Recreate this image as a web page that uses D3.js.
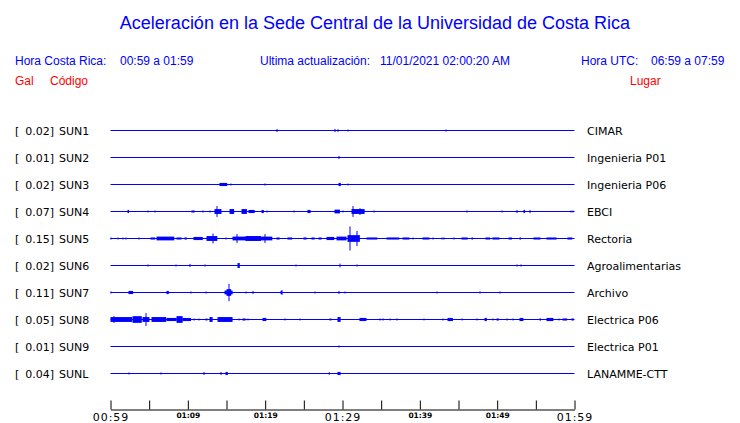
<!DOCTYPE html>
<html>
<head>
<meta charset="utf-8">
<script src="https://cdn.jsdelivr.net/npm/d3@7"></script>
<style>
  html, body { margin: 0; padding: 0; background: #fff; }
  svg { display: block; }
</style>
</head>
<body>
<div id="chart"></div>
<script>
// ---------- DATA ----------
const stations = ["SUN1","SUN2","SUN3","SUN4","SUN5","SUN6","SUN7","SUN8","SUN9","SUNL"];
const maxGal   = ["0.02","0.01","0.02","0.07","0.15","0.02","0.11","0.05","0.01","0.04"];
const places   = ["CIMAR","Ingenieria P01","Ingenieria P06","EBCI","Rectoria","Agroalimentarias","Archivo","Electrica P06","Electrica P01","LANAMME-CTT"];
const tickLabels = ["00:59","01:09","01:19","01:29","01:39","01:49","01:59"];
const majorLabels = ["00:59","01:29","01:59"];

// events: [start minute after 00:59, end minute, relative amplitude 0..1]
const sun1 = [[21.5,21.5,0.17],[29.0,29.0,0.17],[29.4,29.4,0.15],[30.7,30.7,0.12],[43.4,43.4,0.12]];
const sun2 = [[29.6,29.6,0.17]];
const sun3 = [[14.2,15.2,0.17],[15.6,15.6,0.1],[20.0,20.0,0.12],[29.6,29.9,0.17],[30.7,30.7,0.1]];
const sun4 = [[2.3,2.5,0.17],[4.9,4.9,0.1],[5.8,5.8,0.1],[10.5,10.9,0.12],[12.0,12.0,0.12],[12.9,12.9,0.1],
  [13.5,14.4,0.25],[13.8,13.8,0.5],[15.5,16.1,0.25],[17.0,17.7,0.25],[17.9,18.7,0.17],[19.6,19.9,0.17],
  [20.2,20.2,0.1],[23.7,23.7,0.1],[25.5,25.9,0.17],[29.0,29.7,0.2],[30.0,30.0,0.1],[31.2,32.9,0.25],
  [31.4,31.4,0.5],[32.3,32.3,0.33],[34.1,34.1,0.12],[46.1,46.1,0.12],[50.6,50.6,0.12],[52.5,52.5,0.17],
  [53.5,53.7,0.17],[54.3,54.3,0.17],[59.6,59.6,0.1],[59.8,59.8,0.1]];
const sun5 = [[0.1,0.1,0.12],[1.0,1.0,0.1],[1.6,1.6,0.1],[2.0,2.0,0.1],[3.7,3.7,0.12],[5.2,5.8,0.12],
  [6.0,8.3,0.2],[8.6,9.25,0.12],[9.6,9.9,0.12],[10.8,12.0,0.17],[12.5,13.9,0.25],[13.26,13.26,0.46],
  [14.9,14.9,0.1],[15.85,21.0,0.2],[17.5,19.5,0.25],[16.4,16.4,0.42],[20.0,20.0,0.42],[21.5,21.9,0.12],
  [23.0,23.6,0.12],[25.0,25.4,0.12],[26.1,26.5,0.12],[27.0,27.4,0.12],[28.0,29.0,0.17],[29.3,30.6,0.2],
  [30.7,32.3,0.33],[31.0,31.0,1.0],[31.9,31.9,0.67],[33.2,34.6,0.12],[35.8,37.45,0.12],[37.8,38.7,0.12],
  [39.1,39.1,0.1],[40.4,41.3,0.12],[41.7,41.7,0.1],[42.9,42.9,0.12],[43.1,43.1,0.12],[44.4,44.4,0.12],
  [45.5,46.3,0.12],[46.7,46.9,0.1],[48.6,49.2,0.12],[49.5,50.4,0.12],[51.55,52.0,0.1],[53.0,53.2,0.12],
  [54.7,55.6,0.12],[56.5,57.8,0.12],[59.2,59.8,0.12]];
const sun6 = [[4.85,4.85,0.12],[8.5,8.5,0.1],[10.3,10.3,0.17],[12.2,12.2,0.12],[16.5,16.8,0.25],[24.0,24.0,0.1],
  [29.7,29.7,0.2],[31.9,31.9,0.12],[52.6,52.6,0.12],[53.1,53.1,0.12]];
const sun7 = [[0.06,0.06,0.12],[2.4,3.0,0.17],[7.3,7.6,0.17],[10.4,10.4,0.12],[12.35,12.35,0.12],[14.8,15.85,0.2],
  [15.0,15.6,0.33],[15.3,15.3,0.75],[17.5,17.5,0.1],[18.4,18.4,0.17],[22.1,22.3,0.17],[22.2,22.2,0.25],
  [26.45,26.45,0.1],[29.6,29.6,0.17],[30.3,30.3,0.1],[42.2,42.2,0.1],[47.8,47.8,0.12],[50.4,50.4,0.12]];
const sun8 = [[0,2.8,0.25],[0.45,0.45,0.33],[2.9,4.1,0.33],[4.2,5.1,0.25],[4.6,4.6,0.58],[5.4,7.3,0.25],
  [7.3,8.6,0.17],[8.6,9.4,0.33],[9.4,10.5,0.17],[10.8,10.8,0.12],[11.45,11.45,0.1],[12.35,12.6,0.1],
  [12.9,13.3,0.25],[13.9,15.85,0.25],[16.6,16.6,0.1],[17.1,17.5,0.12],[17.8,17.8,0.1],[19.7,20.2,0.17],
  [22.6,22.6,0.1],[24.5,24.5,0.1],[28.4,28.65,0.1],[29.4,29.8,0.25],[32.3,33.2,0.17],[34.9,34.9,0.12],
  [35.3,35.3,0.12],[36.2,36.2,0.1],[37.1,37.1,0.12],[40.6,40.6,0.1],[43.0,43.0,0.12],[43.7,44.4,0.17],
  [45.5,45.5,0.1],[47.4,47.4,0.1],[48.4,48.7,0.17],[49.4,49.4,0.1],[50.0,50.3,0.12],[51.3,51.3,0.12],
  [52.1,52.1,0.1],[53.0,53.5,0.17],[55.6,55.8,0.12],[56.5,57.4,0.17],[58.0,58.0,0.1],[58.5,59.1,0.12],
  [59.7,60,0.12]];
const sun9 = [[29.6,29.6,0.12]];
const sunl = [[2.4,2.4,0.1],[6.5,6.5,0.12],[12.1,12.1,0.17],[14.3,14.4,0.17],[14.9,15.2,0.17],[28.3,28.5,0.12],[29.4,29.8,0.17]];
const traces = [sun1,sun2,sun3,sun4,sun5,sun6,sun7,sun8,sun9,sunl];

// ---------- CHART ----------
const W = 740, H = 423;
const BLUE = "#0000ff", RED = "#ff0000";
const t0 = new Date(2021, 0, 11, 0, 59, 0);
const t1 = new Date(2021, 0, 11, 1, 59, 0);
const toDate = m => new Date(t0.getTime() + m * 60000);

const x = d3.scaleTime().domain([t0, t1]).range([110.5, 574.5]);
const y = d3.scalePoint().domain(stations).range([130, 373]);
const amp = d3.scalePow().exponent(1.15).domain([0, 1]).range([0, 12]);

const svg = d3.select("#chart").append("svg").attr("width", W).attr("height", H)
  .style("background", "#fff");

const sans = "'Liberation Sans', Arial, sans-serif";
const dv = "'DejaVu Sans', sans-serif";

svg.append("text").attr("x", 375).attr("y", 29).attr("text-anchor", "middle")
  .attr("font-family", sans).attr("font-size", 18).attr("fill", BLUE)
  .text("Aceleración en la Sede Central de la Universidad de Costa Rica");

const hdr = [
  [15, "Hora Costa Rica:"], [120, "00:59 a 01:59"],
  [260, "Ultima actualización:"], [380, "11/01/2021 02:00:20 AM"],
  [581, "Hora UTC:"], [651, "06:59 a 07:59"]
];
svg.selectAll("text.hdr").data(hdr).join("text").attr("class", "hdr")
  .attr("x", d => d[0]).attr("y", 65).attr("font-family", sans).attr("font-size", 12)
  .attr("fill", BLUE).text(d => d[1]);

const sub = [[15, "Gal"], [50, "Código"], [630, "Lugar"]];
svg.selectAll("text.sub").data(sub).join("text").attr("class", "sub")
  .attr("x", d => d[0]).attr("y", 85).attr("font-family", sans).attr("font-size", 12)
  .attr("fill", RED).text(d => d[1]);

// traces
const rows = svg.selectAll("g.row").data(stations).join("g").attr("class", "row")
  .attr("transform", d => `translate(0,${y(d) + 0.5})`);

rows.append("text").attr("x", 15).attr("y", 4).attr("font-family", dv).attr("font-size", 11)
  .attr("fill", "#000").text("[");
rows.append("text").attr("x", 54).attr("y", 4).attr("text-anchor", "end").attr("font-family", dv)
  .attr("font-size", 11).attr("fill", "#000").text((d, i) => maxGal[i] + "]");
rows.append("text").attr("x", 59).attr("y", 4).attr("font-family", dv).attr("font-size", 11)
  .attr("fill", "#000").text(d => d);
rows.append("text").attr("x", 587).attr("y", 4).attr("font-family", dv).attr("font-size", 11)
  .attr("fill", "#000").text((d, i) => places[i]);

rows.append("line").attr("x1", x(t0)).attr("x2", x(t1)).attr("y1", 0).attr("y2", 0)
  .attr("stroke", BLUE).attr("stroke-width", 1);

rows.each(function(d, i) {
  d3.select(this).selectAll("rect.ev").data(traces[i]).join("rect").attr("class", "ev")
    .attr("x", e => Math.round(x(toDate(e[0]))) - 0.5)
    .attr("width", e => Math.max(1, x(toDate(e[1])) - x(toDate(e[0]))))
    .attr("y", e => -Math.max(1, amp(e[2])))
    .attr("height", e => 2 * Math.max(1, amp(e[2])))
    .attr("fill", BLUE);
});

// axis
const tickVals = d3.range(0, 61, 5).map(toDate);
const fmt = d3.timeFormat("%H:%M");
const axis = d3.axisBottom(x).tickValues(tickVals).tickSizeInner(-9).tickSizeOuter(0)
  .tickPadding(3)
  .tickFormat(d => tickLabels.includes(fmt(d)) ? fmt(d) : "");
const gA = svg.append("g").attr("transform", "translate(0,409.5)").call(axis);
gA.select(".domain").attr("stroke", "#000");
gA.selectAll(".tick line").attr("stroke", "#000");
gA.selectAll(".tick text").attr("fill", "#000").attr("dy", 0).attr("y", 0)
  .each(function(d) {
    const big = majorLabels.includes(fmt(d));
    d3.select(this)
      .attr("font-family", dv)
      .attr("font-size", big ? 11 : 7.5)
      .attr("font-weight", big ? "normal" : "bold")
      .attr("letter-spacing", big ? 1 : 0)
      .attr("y", big ? 11 : 8);
  });
</script>
</body>
</html>
